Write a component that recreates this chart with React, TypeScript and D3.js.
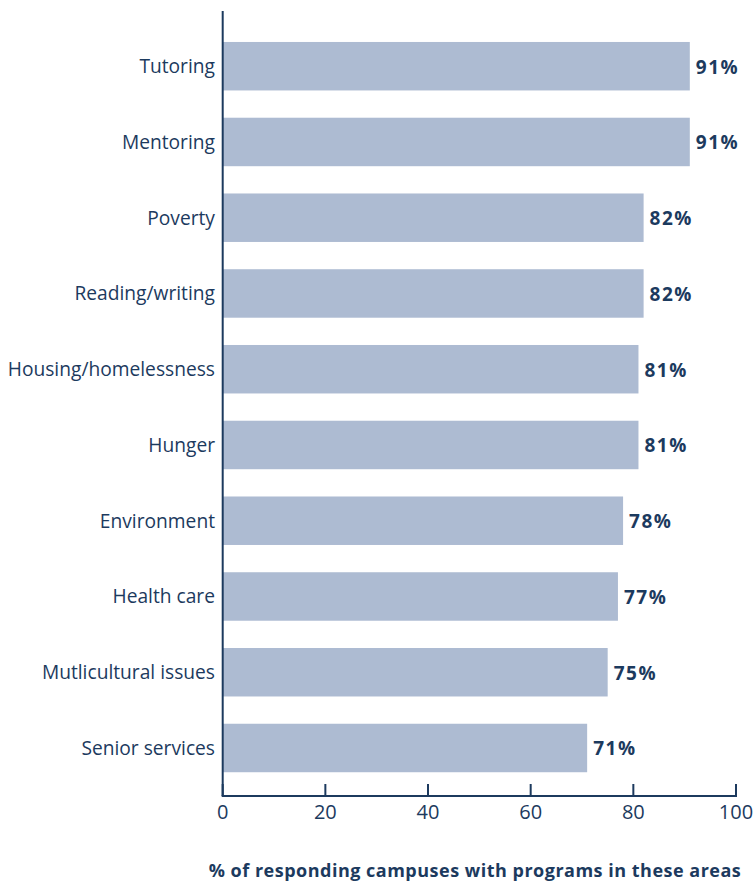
import { useEffect } from "react";
import * as d3 from "d3";

const categories = [
  "Tutoring",
  "Mentoring",
  "Poverty",
  "Reading/writing",
  "Housing/homelessness",
  "Hunger",
  "Environment",
  "Health care",
  "Mutlicultural issues",
  "Senior services",
];
const values = [91, 91, 82, 82, 81, 81, 78, 77, 75, 71];
const xTicks = [0, 20, 40, 60, 80, 100];
const axisTitle = "% of responding campuses with programs in these areas";

const W = 753;
const H = 881;
const navy = "#1c3a5e";
const barColor = "#adbbd2";
const font = "'Open Sans', sans-serif";

const App = () => {
  useEffect(() => {
    document.body.style.margin = "0";
  }, []);

  const x = d3.scaleLinear().domain([0, 100]).range([222.7, 736]);
  const y = d3
    .scaleBand<string>()
    .domain(categories)
    .range([14.7, 799.5])
    .paddingInner(0.36)
    .paddingOuter(0.36);

  const axisY = 796;

  return (
    <svg width={W} height={H} style={{ display: "block", fontFamily: font }}>
      {categories.map((c, i) => {
        const by = y(c) ?? 0;
        const cy = by + y.bandwidth() / 2;
        return (
          <g key={c}>
            <rect
              x={x(0)}
              y={by}
              width={x(values[i]) - x(0)}
              height={y.bandwidth()}
              fill={barColor}
            />
            <text
              x={215}
              y={cy + 7}
              textAnchor="end"
              fontSize={19.2}
              fill={navy}
            >
              {c}
            </text>
            <text
              x={x(values[i]) + 6}
              y={cy + 7.5}
              fontSize={19}
              fontWeight="bold"
              letterSpacing={1.5}
              fill={navy}
            >
              {values[i]}%
            </text>
          </g>
        );
      })}

      {/* axes */}
      <line x1={x(0)} x2={x(0)} y1={11} y2={axisY} stroke={navy} strokeWidth={2} />
      <line x1={x(0) - 1} x2={x(100) + 1} y1={axisY} y2={axisY} stroke={navy} strokeWidth={2} />
      {xTicks.map((t) => (
        <g key={t}>
          <line x1={x(t)} x2={x(t)} y1={784} y2={axisY} stroke={navy} strokeWidth={2} />
          <text x={x(t)} y={819} textAnchor="middle" fontSize={20} fill={navy}>
            {t}
          </text>
        </g>
      ))}

      <text
        x={475}
        y={877}
        textAnchor="middle"
        fontSize={18}
        fontWeight="bold"
        letterSpacing={0.5}
        fill={navy}
      >
        {axisTitle}
      </text>
    </svg>
  );
};

export default App;
